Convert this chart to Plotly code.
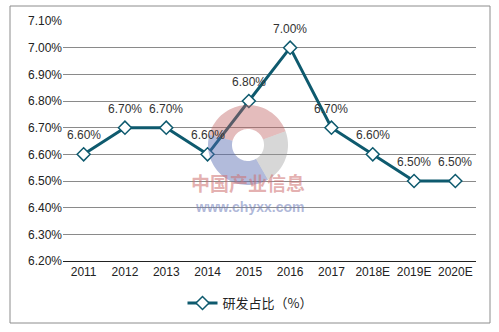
import numpy as np
import plotly.graph_objects as go

# R&D share by year (%)
years = ["2011", "2012", "2013", "2014", "2015", "2016", "2017", "2018E", "2019E", "2020E"]
share = [6.60, 6.70, 6.70, 6.60, 6.80, 7.00, 6.70, 6.60, 6.50, 6.50]
series_name = "研发占比（%）"

W, H = 499, 332
L, R, T, B = 63, 23, 21, 71
LINE = "#0e5a6e"
FONT = "Liberation Sans, Arial, sans-serif"


def px_x(x):
    return (x - L) / (W - L - R)


def px_y(y):
    return 1 - (y - T) / (H - T - B)


fig = go.Figure()
fig.add_trace(go.Scatter(
    x=years, y=share, name=series_name,
    mode="lines+markers",
    line=dict(color=LINE, width=3),
    marker=dict(symbol="diamond", size=10, color="white",
                line=dict(color=LINE, width=1.5)),
    cliponaxis=False,
))

shapes = []
# outer frame of the chart
shapes.append(dict(type="rect", xref="paper", yref="paper",
                   x0=px_x(10), x1=px_x(490), y0=px_y(323), y1=px_y(6),
                   line=dict(color="#8c8c8c", width=1), layer="below"))

# watermark logo: three translucent ring segments
cx, cy, ro, ri = 248, 145, 40, 16
segments = [(20, 165, "rgba(190,95,95,0.42)"),
            (165, 300, "rgba(85,105,175,0.45)"),
            (300, 380, "rgba(150,150,150,0.38)")]
for a0, a1, col in segments:
    t = np.radians(np.linspace(a0, a1, 40))
    xo = cx + ro * np.cos(t)
    yo = cy - ro * np.sin(t)
    xi = cx + ri * np.cos(t[::-1])
    yi = cy - ri * np.sin(t[::-1])
    pts = [(px_x(a), px_y(b)) for a, b in zip(np.r_[xo, xi], np.r_[yo, yi])]
    path = "M " + " L ".join(f"{a:.4f},{b:.4f}" for a, b in pts) + " Z"
    shapes.append(dict(type="path", xref="paper", yref="paper", path=path,
                       fillcolor=col, line=dict(width=0), layer="above"))

annotations = [
    dict(text="<b>中国产业信息</b>", xref="paper", yref="paper",
         x=px_x(248), y=px_y(198), showarrow=False,
         font=dict(family="Noto Sans CJK SC", size=19, color="rgba(205,110,110,0.55)")),
    dict(text="<b>www.chyxx.com</b>", xref="paper", yref="paper",
         x=px_x(249), y=px_y(217), showarrow=False,
         font=dict(family=FONT, size=14, color="rgba(110,125,185,0.55)")),
]
# value labels above each point (category index as x position)
for i, v in enumerate(share):
    annotations.append(dict(x=i, y=v, xref="x", yref="y", text=f"{v:.2f}%",
                            showarrow=False, yshift=19,
                            font=dict(family=FONT, size=12, color="#333333")))

fig.update_layout(
    width=W, height=H,
    margin=dict(l=L, r=R, t=T, b=B),
    paper_bgcolor="white", plot_bgcolor="white",
    showlegend=True,
    legend=dict(orientation="h", x=px_x(250), xanchor="center",
                y=px_y(303), yanchor="middle", itemwidth=30,
                font=dict(family="Noto Sans CJK SC", size=13, color="#222222")),
    shapes=shapes, annotations=annotations,
    font=dict(family=FONT, size=12, color="#222222"),
)
fig.update_xaxes(type="category", range=[-0.5, 9.5], showgrid=False, showline=True,
                 linecolor="#222222", linewidth=1, ticks="",
                 tickfont=dict(family=FONT, size=12, color="#222222"))
fig.update_yaxes(range=[6.2, 7.1], dtick=0.1, tick0=6.2,
                 tickformat=".2f", ticksuffix="%",
                 showgrid=True, gridcolor="#8a8a8a", gridwidth=1,
                 zeroline=False, showline=False, ticks="",
                 tickfont=dict(family=FONT, size=12, color="#222222"))

fig.write_html("out.html")
